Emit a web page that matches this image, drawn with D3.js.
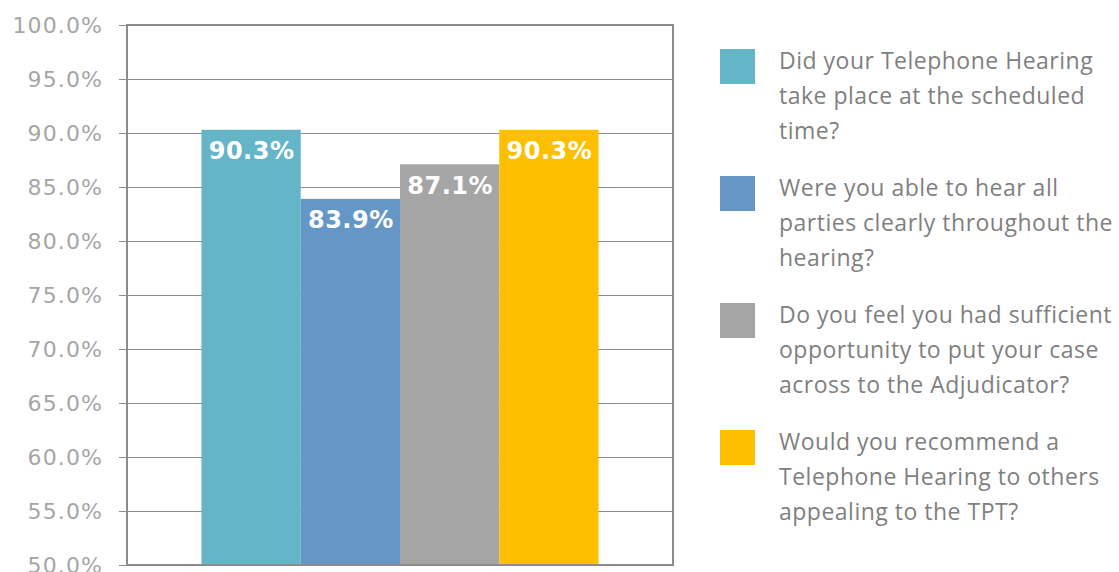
<!DOCTYPE html>
<html>
<head>
<meta charset="utf-8">
<script src="https://cdn.jsdelivr.net/npm/d3@7"></script>
<style>
  html, body { margin: 0; padding: 0; background: #fff; }
  svg { display: block; }
</style>
</head>
<body>
<svg id="chart" width="1119" height="572"></svg>
<script>
// Survey questions (one bar each) and the share answering yes
const questions = [
  "Did your Telephone Hearing take place at the scheduled time?",
  "Were you able to hear all parties clearly throughout the hearing?",
  "Do you feel you had sufficient opportunity to put your case across to the Adjudicator?",
  "Would you recommend a Telephone Hearing to others appealing to the TPT?"
];
const values = [90.3, 83.9, 87.1, 90.3];
const colors = ["#63b5c7", "#6497c5", "#a5a5a5", "#fdbf00"];
// Legend text broken into lines
const legendLines = [
  ["Did your Telephone Hearing", "take place at the scheduled", "time?"],
  ["Were you able to hear all", "parties clearly throughout the", "hearing?"],
  ["Do you feel you had sufficient", "opportunity to put your case", "across to the Adjudicator?"],
  ["Would you recommend a", "Telephone Hearing to others", "appealing to the TPT?"]
];
const yTicks = [50, 55, 60, 65, 70, 75, 80, 85, 90, 95, 100];

const svg = d3.select("#chart");
const plot = { left: 127, right: 673, top: 25, bottom: 565 };

const y = d3.scaleLinear().domain([50, 100]).range([plot.bottom, plot.top]);
// one category band; bars sit side by side with a 150% gap split on both sides
const barW = (plot.right - plot.left) / 5.5;
const x = d3.scaleBand()
  .domain(d3.range(values.length))
  .range([plot.left + 0.75 * barW, plot.right - 0.75 * barW])
  .paddingInner(0).paddingOuter(0);

// gridlines
svg.append("g")
  .selectAll("line")
  .data(yTicks)
  .join("line")
  .attr("x1", plot.left - 8)
  .attr("x2", plot.right)
  .attr("y1", d => Math.round(y(d)) + 0.5)
  .attr("y2", d => Math.round(y(d)) + 0.5)
  .attr("stroke", "#8c8c8c")
  .attr("stroke-width", 1);

// bars
svg.append("g")
  .selectAll("rect")
  .data(values)
  .join("rect")
  .attr("x", (d, i) => x(i))
  .attr("width", x.bandwidth())
  .attr("y", d => y(d))
  .attr("height", d => plot.bottom - y(d))
  .attr("fill", (d, i) => colors[i]);

// plot frame: right & top edges, plus the left axis line
svg.append("rect")
  .attr("x", plot.left)
  .attr("y", plot.top)
  .attr("width", plot.right - plot.left)
  .attr("height", plot.bottom - plot.top)
  .attr("fill", "none")
  .attr("stroke", "#8c8c8c")
  .attr("stroke-width", 2);

// y-axis tick labels
const yAxis = d3.axisLeft(y)
  .tickValues(yTicks)
  .tickSize(0)
  .tickPadding(24)
  .tickFormat(d => d.toFixed(1) + "%");
const ga = svg.append("g")
  .attr("transform", `translate(${plot.left},0)`)
  .call(yAxis);
ga.select(".domain").remove();
ga.selectAll("text")
  .attr("fill", "#a6a6a6")
  .attr("font-family", "'DejaVu Sans', Verdana, sans-serif")
  .attr("font-size", 22)
  .attr("letter-spacing", 1.1);

// value labels inside the top of each bar
svg.append("g")
  .selectAll("text")
  .data(values)
  .join("text")
  .attr("x", (d, i) => x(i) + x.bandwidth() / 2 + 0.5)
  .attr("y", d => y(d) + 29.5)
  .attr("text-anchor", "middle")
  .attr("fill", "#ffffff")
  .attr("font-family", "'DejaVu Sans', Verdana, sans-serif")
  .attr("font-weight", "bold")
  .attr("font-size", 24)
  .attr("letter-spacing", 0.5)
  .text(d => d.toFixed(1) + "%");

// legend
const legend = svg.append("g");
const items = legend.selectAll("g")
  .data(questions)
  .join("g")
  .attr("transform", (d, i) => `translate(720, ${49 + i * 127})`);
items.append("rect")
  .attr("width", 35)
  .attr("height", 35)
  .attr("fill", (d, i) => colors[i]);
items.append("text")
  .attr("font-family", "'Open Sans', sans-serif")
  .attr("font-size", 23)
  .attr("letter-spacing", 0.5)
  .attr("fill", "#7f7f7f")
  .selectAll("tspan")
  .data((d, i) => legendLines[i])
  .join("tspan")
  .attr("x", 59)
  .attr("y", (d, j) => 19.5 + j * 35)
  .text(d => d);
</script>
</body>
</html>
